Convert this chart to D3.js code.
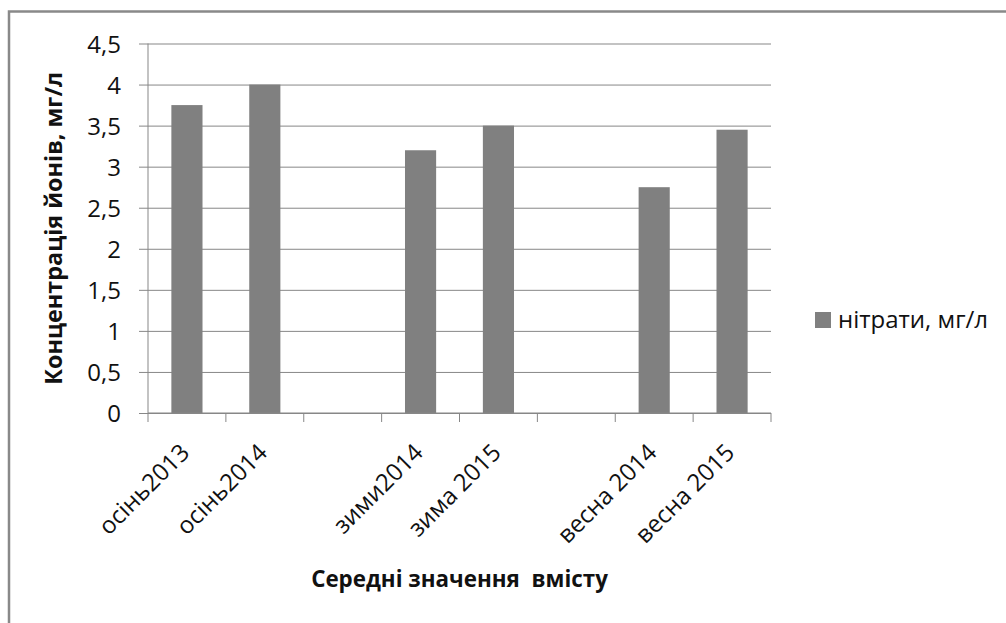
<!DOCTYPE html>
<html>
<head>
<meta charset="utf-8">
<script src="https://cdn.jsdelivr.net/npm/d3@7"></script>
<style>
  body { margin: 0; background: #fff; }
  text { font-family: "Open Sans", "Noto Sans", sans-serif; fill: #111; }
</style>
</head>
<body>
<div id="chartArea"></div>
<script>
// categories (empty slots are gaps between seasons in the original sheet)
var categories = ['осінь2013', 'осінь2014', '', 'зими2014', 'зима 2015', ' ', 'весна 2014', 'весна 2015'];
var nitrates = [3.75, 4.0, null, 3.2, 3.5, null, 2.75, 3.45];
var yTicks = [0, 0.5, 1, 1.5, 2, 2.5, 3, 3.5, 4, 4.5];
var seriesName = 'нітрати, мг/л';

var w = 1006, h = 623;
var plotLeft = 148, plotRight = 771, plotTop = 43.5, plotBottom = 413;

var svg = d3.select('#chartArea').append('svg')
    .attr('width', w)
    .attr('height', h);

// outer frame (only top and left edges visible)
svg.append('path')
    .attr('d', 'M9,' + h + ' V11.5 H' + w)
    .attr('fill', 'none')
    .attr('stroke', '#898989')
    .attr('stroke-width', 2.5);

var xScale = d3.scaleBand()
    .domain(categories)
    .range([plotLeft, plotRight])
    .paddingInner(0.6)
    .paddingOuter(0.3);

var yScale = d3.scaleLinear()
    .domain([0, 4.5])
    .range([plotBottom, plotTop]);

// gridlines + y labels
var yAxis = d3.axisLeft(yScale)
    .tickValues(yTicks)
    .tickSize(-(plotRight - plotLeft) - 9)
    .tickFormat(function (d) { return String(d).replace('.', ','); });

svg.append('g')
    .attr('transform', 'translate(' + (plotLeft - 9) + ',0)')
    .call(yAxis)
    .call(function (g) {
        g.select('.domain').remove();
        g.selectAll('line').attr('stroke', '#878787');
        g.selectAll('text')
            .attr('x', -18)
            .attr('dy', '0.36em')
            .style('font-size', '24px');
    });

// y axis line
svg.append('line')
    .attr('x1', plotLeft).attr('x2', plotLeft)
    .attr('y1', plotTop).attr('y2', plotBottom)
    .attr('stroke', '#878787');

// bars
svg.selectAll('rect.bar')
    .data(categories.map(function (c, i) { return {c: c, v: nitrates[i]}; })
        .filter(function (d) { return d.v !== null; }))
    .enter()
    .append('rect')
    .attr('class', 'bar')
    .attr('x', function (d) { return xScale(d.c); })
    .attr('y', function (d) { return yScale(d.v); })
    .attr('width', xScale.bandwidth())
    .attr('height', function (d) { return plotBottom - yScale(d.v); })
    .attr('fill', '#808080');

// x axis with ticks at category boundaries
var step = xScale.step();
var boundaries = d3.range(categories.length + 1).map(function (i) { return plotLeft + i * step; });
svg.append('line')
    .attr('x1', plotLeft).attr('x2', plotRight)
    .attr('y1', plotBottom).attr('y2', plotBottom)
    .attr('stroke', '#878787');
svg.selectAll('line.xtick')
    .data(boundaries)
    .enter()
    .append('line')
    .attr('class', 'xtick')
    .attr('x1', function (d) { return d; })
    .attr('x2', function (d) { return d; })
    .attr('y1', plotBottom)
    .attr('y2', plotBottom + 9)
    .attr('stroke', '#878787');

svg.selectAll('text.xlab')
    .data(categories.filter(function (c) { return c.trim() !== ''; }))
    .enter()
    .append('text')
    .attr('class', 'xlab')
    .attr('text-anchor', 'end')
    .attr('transform', function (d) {
        var cx = xScale(d) + xScale.bandwidth() / 2;
        return 'translate(' + (cx + 4) + ',' + (plotBottom + 41) + ') rotate(-45)';
    })
    .style('font-size', '24px')
    .text(function (d) { return d; });

// shrink/grow a bold title until it is as long as in the picture
function fitText(sel, target) {
    var len = sel.node().getComputedTextLength();
    var fs = parseFloat(sel.style('font-size'));
    sel.style('font-size', (fs * target / len) + 'px');
}

// axis titles
var yTitle = svg.append('text')
    .attr('text-anchor', 'middle')
    .attr('transform', 'translate(62,' + ((plotTop + plotBottom) / 2) + ') rotate(-90)')
    .style('font-size', '22px')
    .style('font-weight', 'bold')
    .text('Концентрація йонів, мг/л');
fitText(yTitle, 313);

var xTitle = svg.append('text')
    .attr('x', (plotLeft + plotRight) / 2)
    .attr('y', 587)
    .attr('text-anchor', 'middle')
    .style('font-size', '22px')
    .style('font-weight', 'bold')
    .style('white-space', 'pre')
    .text('Середні значення  вмісту');
fitText(xTitle, 297);

// legend
svg.append('rect')
    .attr('x', 815).attr('y', 312)
    .attr('width', 16).attr('height', 16)
    .attr('fill', '#808080');
svg.append('text')
    .attr('x', 838).attr('y', 328)
    .style('font-size', '24px')
    .text(seriesName);
</script>
</body>
</html>
